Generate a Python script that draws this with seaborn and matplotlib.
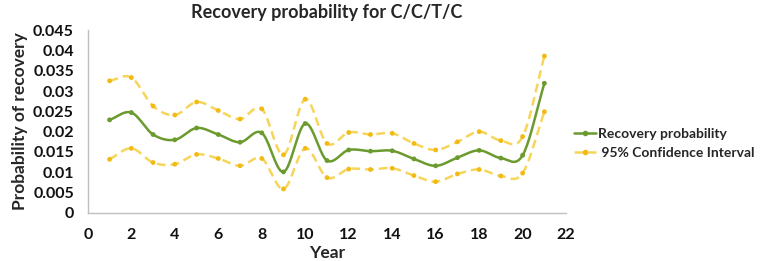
import numpy as np
import pandas as pd
import matplotlib
matplotlib.use("Agg")
import matplotlib.pyplot as plt
import seaborn as sns
from matplotlib.lines import Line2D

# values
years = list(range(1, 22))
recovery = [0.0229, 0.0247, 0.0193, 0.0180, 0.0209, 0.0193, 0.0174, 0.0197, 0.0101, 0.0220,
            0.0129, 0.0155, 0.0152, 0.0153, 0.0133, 0.0116, 0.0136, 0.0154, 0.0135, 0.0142, 0.0319]
ci_upper = [0.0325, 0.0333, 0.0263, 0.0241, 0.0273, 0.0252, 0.0231, 0.0256, 0.0143, 0.0280,
            0.0171, 0.0198, 0.0193, 0.0196, 0.0171, 0.0155, 0.0175, 0.0200, 0.0178, 0.0188, 0.0386]
ci_lower = [0.0132, 0.0159, 0.0124, 0.0120, 0.0144, 0.0134, 0.0116, 0.0134, 0.0059, 0.0159,
            0.0087, 0.0108, 0.0107, 0.0110, 0.0092, 0.0077, 0.0096, 0.0107, 0.0091, 0.0098, 0.0249]

green = "#6b9a2e"
yellow = "#f7d55a"
yellow_dark = "#f2bb14"


# excel-style smoothed line (catmull-rom through the points)
def smooth(x, y, n=20):
    x = np.asarray(x, float)
    y = np.asarray(y, float)
    px = np.concatenate([[2 * x[0] - x[1]], x, [2 * x[-1] - x[-2]]])
    py = np.concatenate([[2 * y[0] - y[1]], y, [2 * y[-1] - y[-2]]])
    xs, ys = [], []
    t = np.linspace(0, 1, n, endpoint=False)
    for i in range(1, len(px) - 2):
        for p, out in ((px, xs), (py, ys)):
            p0, p1, p2, p3 = p[i - 1], p[i], p[i + 1], p[i + 2]
            out.extend(0.5 * (2 * p1 + (-p0 + p2) * t + (2 * p0 - 5 * p1 + 4 * p2 - p3) * t ** 2
                              + (-p0 + 3 * p1 - 3 * p2 + p3) * t ** 3))
    xs.append(x[-1])
    ys.append(y[-1])
    return np.array(xs), np.array(ys)


sns.set_style("white")
plt.rcParams['font.family'] = ['Lato', 'DejaVu Sans']

fig = plt.figure(figsize=(7.64, 2.61), dpi=100)
ax = fig.add_axes([0.115, 0.184, 0.626, 0.701])

for vals in (ci_upper, ci_lower):
    sx, sy = smooth(years, vals)
    sns.lineplot(x=sx, y=sy, ax=ax, color=yellow, lw=1.8, linestyle=(0, (3.5, 2)), sort=False)
    sns.scatterplot(x=years, y=vals, ax=ax, color=yellow_dark, s=12, edgecolor="none", zorder=3)

sx, sy = smooth(years, recovery)
sns.lineplot(x=sx, y=sy, ax=ax, color=green, lw=1.8, sort=False)
sns.scatterplot(x=years, y=recovery, ax=ax, color=green, s=12, edgecolor="none", zorder=4)

ax.set_xlim(0, 22)
ax.set_ylim(0, 0.045)
ax.set_xticks(range(0, 23, 2))
ax.set_yticks(np.arange(0, 0.0451, 0.005))
ax.set_yticklabels(["0", "0.005", "0.01", "0.015", "0.02", "0.025", "0.03", "0.035", "0.04", "0.045"])
ax.tick_params(length=0, labelsize=11.5)
ax.tick_params(axis="y", pad=10)
ax.tick_params(axis="x", pad=11)
for lab in ax.get_xticklabels() + ax.get_yticklabels():
    lab.set_fontweight("bold")
    lab.set_color("#111111")

sns.despine(ax=ax)
for s in ("left", "bottom"):
    ax.spines[s].set_color("#bfbfbf")
    ax.spines[s].set_linewidth(1)

ax.set_xlabel("Year", fontsize=12.5, fontweight="bold", labelpad=2)
ax.set_ylabel("Probability of recovery", fontsize=12.5, fontweight="bold", labelpad=4)
ax.set_title("Recovery probability for C/C/T/C", fontsize=13, fontweight="bold", pad=9)

handles = [
    Line2D([], [], color=green, lw=1.8, marker="o", markersize=3),
    Line2D([], [], color=yellow, lw=1.8, linestyle=(0, (3.5, 2)), marker="o", markersize=3,
           markerfacecolor=yellow_dark, markeredgecolor=yellow_dark),
]
leg = fig.legend(handles, ["Recovery probability", " 95% Confidence Interval"], loc="center left",
                 bbox_to_anchor=(0.735, 0.45), frameon=False, handlelength=1.6, handletextpad=0.1,
                 labelspacing=0.5, prop={"size": 10, "weight": "bold"})

fig.savefig("out.png", dpi=100)
